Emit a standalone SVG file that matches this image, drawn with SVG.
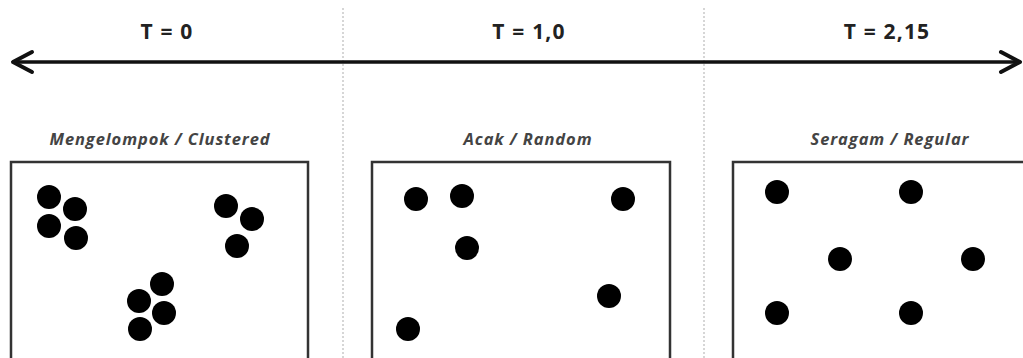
<svg xmlns="http://www.w3.org/2000/svg" width="1023" height="358" viewBox="0 0 1023 358">
<style>
.bg{fill:#fff}
.div{stroke:#bbb;stroke-width:1.2;stroke-dasharray:2,2;fill:none}
.axis{stroke:#111;stroke-width:3.5;fill:none}
.head{stroke:#111;stroke-width:4;fill:none;stroke-linecap:round;stroke-linejoin:round}
.t{font-family:"Open Sans","Liberation Sans",sans-serif;font-weight:700;font-size:21px;letter-spacing:1.2px;fill:#222;text-anchor:middle}
.s{font-family:"Open Sans","Liberation Sans",sans-serif;font-weight:700;font-style:italic;font-size:16.5px;letter-spacing:0.9px;fill:#444;text-anchor:middle}
.box{fill:#fff;stroke:#333;stroke-width:2.5}
.dot{fill:#000}
</style>
<rect class="bg" x="0" y="0" width="1023" height="358"/>
<g id="dividers">
<line class="div" x1="343" y1="8" x2="343" y2="358"/>
<line class="div" x1="704" y1="8" x2="704" y2="358"/>
</g>
<g id="connectors">
<line class="axis" x1="14" y1="62" x2="1018" y2="62"/>
<polyline class="head" points="32,52 13,62 32,72"/>
<polyline class="head" points="1001,52 1020,62 1001,72"/>
</g>
<g id="labels">
<text class="t" x="167" y="39">T = 0</text>
<text class="t" x="529" y="39">T = 1,0</text>
<text class="t" x="887" y="39">T = 2,15</text>
</g>
<g id="clustered">
<text class="s" x="160" y="145">Mengelompok / Clustered</text>
<rect class="box" x="11" y="162" width="297" height="210"/>
<circle class="dot" cx="49" cy="197" r="12"/>
<circle class="dot" cx="75" cy="209" r="12"/>
<circle class="dot" cx="49" cy="226" r="12"/>
<circle class="dot" cx="76" cy="238" r="12"/>
<circle class="dot" cx="226" cy="206" r="12"/>
<circle class="dot" cx="252" cy="219" r="12"/>
<circle class="dot" cx="237" cy="246" r="12"/>
<circle class="dot" cx="162" cy="284" r="12"/>
<circle class="dot" cx="139" cy="301" r="12"/>
<circle class="dot" cx="164" cy="313" r="12"/>
<circle class="dot" cx="140" cy="329" r="12"/>
</g>
<g id="random">
<text class="s" x="528" y="145">Acak / Random</text>
<rect class="box" x="372" y="162" width="298" height="210"/>
<circle class="dot" cx="416" cy="199" r="12"/>
<circle class="dot" cx="462" cy="196" r="12"/>
<circle class="dot" cx="623" cy="199" r="12"/>
<circle class="dot" cx="467" cy="248" r="12"/>
<circle class="dot" cx="609" cy="296" r="12"/>
<circle class="dot" cx="408" cy="329" r="12"/>
</g>
<g id="regular">
<text class="s" x="890" y="145">Seragam / Regular</text>
<rect class="box" x="733" y="162" width="310" height="210"/>
<circle class="dot" cx="777" cy="192" r="12"/>
<circle class="dot" cx="911" cy="192" r="12"/>
<circle class="dot" cx="840" cy="259" r="12"/>
<circle class="dot" cx="973" cy="259" r="12"/>
<circle class="dot" cx="777" cy="313" r="12"/>
<circle class="dot" cx="911" cy="313" r="12"/>
</g>
</svg>
